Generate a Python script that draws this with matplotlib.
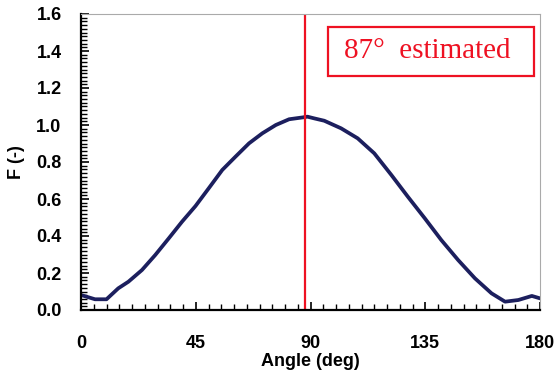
import matplotlib
matplotlib.use("Agg")
import matplotlib.pyplot as plt
from matplotlib.patches import Rectangle
from matplotlib.ticker import MultipleLocator

angle = [0, 5.5, 10, 14.6, 18.6, 23.9, 29.1, 34.4, 39.6, 44.9, 50.1, 55.4, 60.6, 65.9,
         71.1, 76.4, 81.6, 86.9, 88.8, 91.4, 95.4, 102, 108.5, 115, 121.7, 128.2, 134.8,
         141.3, 147.9, 154.5, 161, 166.3, 171.5, 176.8, 180]
force = [0.081, 0.058, 0.058, 0.117, 0.153, 0.216, 0.297, 0.387, 0.477, 0.562, 0.658,
         0.757, 0.829, 0.901, 0.955, 1.0, 1.031, 1.041, 1.045, 1.036, 1.023, 0.982, 0.928,
         0.847, 0.730, 0.612, 0.496, 0.378, 0.270, 0.171, 0.090, 0.045, 0.054, 0.076, 0.063]
estimated_line = 88
box_text = "87°  estimated"
x_ticks = [0, 45, 90, 135, 180]
y_ticks = [0.0, 0.2, 0.4, 0.6, 0.8, 1.0, 1.2, 1.4, 1.6]

plt.rcParams['font.family'] = ['Liberation Sans', 'DejaVu Sans']

fig = plt.figure(figsize=(5.56, 3.79), dpi=100)
ax = fig.add_axes([81/556, (379-310)/379, (540-81)/556, (310-14)/379])

ax.plot(angle, force, color='#1c1f5e', lw=2.7, solid_capstyle='round', solid_joinstyle='round')
ax.axvline(estimated_line, color='#ee1122', lw=1.6)

ax.set_xlim(0, 180)
ax.set_ylim(0, 1.6)
ax.set_xticks(x_ticks)
ax.set_yticks(y_ticks)
ax.set_yticklabels([f"{v:.1f}" for v in y_ticks])
ax.xaxis.set_minor_locator(MultipleLocator(5))
ax.yaxis.set_minor_locator(MultipleLocator(0.02))
ax.tick_params(axis='both', which='both', direction='in', top=False, right=False)
ax.tick_params(axis='both', which='major', length=6, width=1.2, labelsize=13)
ax.tick_params(axis='both', which='minor', length=4, width=1.0)
ax.tick_params(axis='x', which='major', pad=18)
ax.tick_params(axis='y', which='major', pad=14)
for lbl in ax.get_xticklabels() + ax.get_yticklabels():
    lbl.set_fontweight('bold')

for s in ['left', 'bottom']:
    ax.spines[s].set_linewidth(1.6)
    ax.spines[s].set_color('black')
for s in ['top', 'right']:
    ax.spines[s].set_linewidth(0.8)
    ax.spines[s].set_color('#aaaaaa')

ax.set_xlabel("Angle (deg)", fontsize=13, fontweight='bold', labelpad=1)
ax.set_ylabel("F (-)", fontsize=13, fontweight='bold', labelpad=8)

bx0, bx1 = (328-81)/459, (534-81)/459
by0, by1 = (310-76)/296, (310-27)/296
ax.add_patch(Rectangle((bx0, by0), bx1-bx0, by1-by0, transform=ax.transAxes,
                       facecolor='white', edgecolor='#ee1122', lw=1.6, zorder=5))
ax.text((bx0+bx1)/2 - 0.008, (by0+by1)/2, box_text, transform=ax.transAxes, ha='center', va='center',
        color='#ee1122', fontsize=21, family='Liberation Serif', zorder=6)

fig.savefig("out.png", dpi=100)
